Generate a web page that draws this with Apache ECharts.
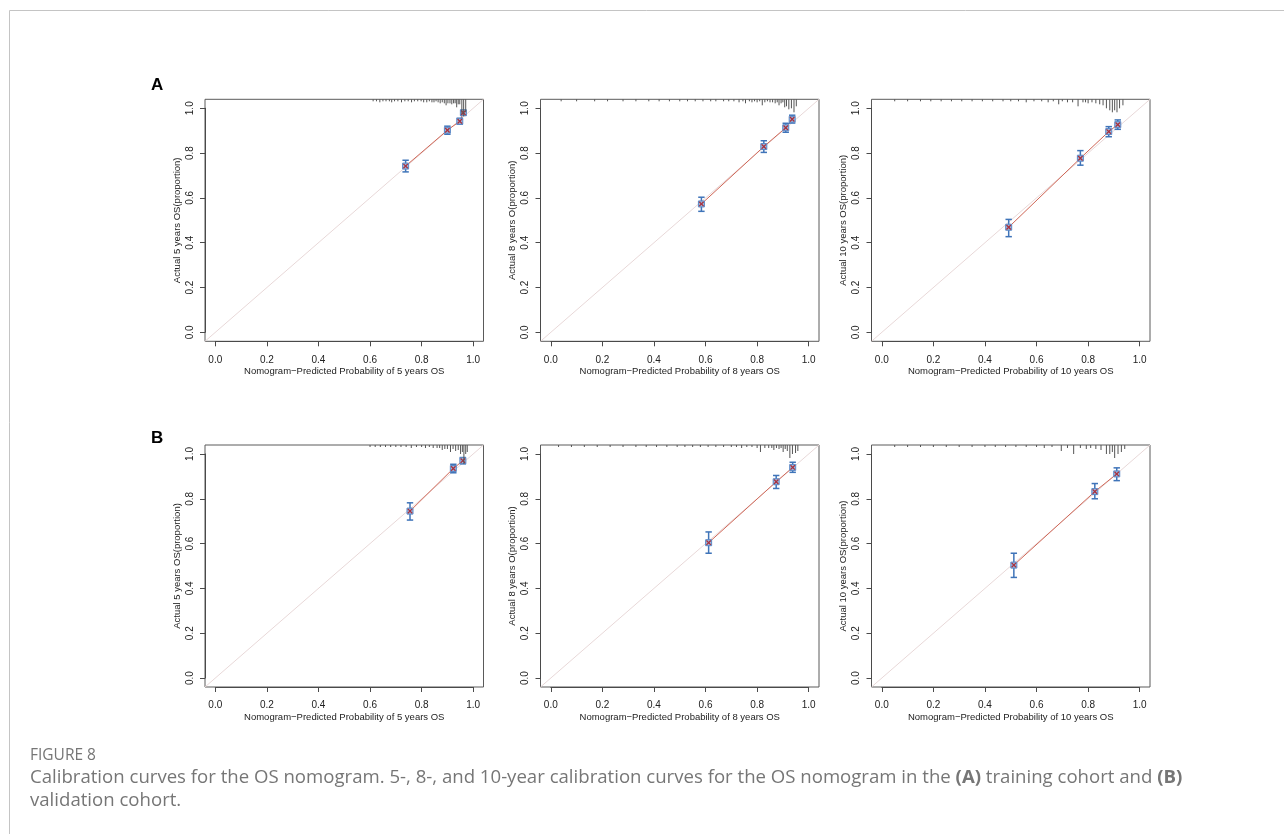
<!DOCTYPE html>
<html><head><meta charset="utf-8">
<script src="https://cdn.jsdelivr.net/npm/echarts@6/dist/echarts.min.js"></script>
<style>html,body{margin:0;padding:0;background:#fff}#c{width:1284px;height:834px}</style>
</head><body><div id="c"></div>
<script>
// ---------- DATA ----------
const tickValues = [0, 0.2, 0.4, 0.6, 0.8, 1.0];

// A: training cohort
const a5Pred = [0.738, 0.900, 0.948, 0.962];
const a5Obs  = [0.742, 0.902, 0.942, 0.980];
const a5Low  = [0.716, 0.884, 0.929, 0.970];
const a5High = [0.768, 0.920, 0.955, 0.990];
const a5RugX = [0.612,0.625,0.638,0.650,0.662,0.675,0.684,0.695,0.708,0.722,0.735,0.748,0.761,0.772,0.785,0.798,0.808,0.820,0.830,0.840,0.848,0.856,0.864,0.872,0.880,0.888,0.895,0.902,0.910,0.917,0.924,0.930,0.936,0.942,0.948,0.956,0.963,0.971];
const a5RugN = [1,1,2,1,1,1,2,1,1,2,1,1,2,1,1,1,2,2,1,2,2,1,2,3,2,3,5,3,3,4,3,3,7,4,4,14,16,12];

const a8Pred = [0.584, 0.826, 0.911, 0.936];
const a8Obs  = [0.573, 0.829, 0.913, 0.951];
const a8Low  = [0.540, 0.803, 0.893, 0.934];
const a8High = [0.603, 0.855, 0.933, 0.969];
const a8RugX = [0.04,0.10,0.17,0.22,0.28,0.33,0.38,0.42,0.46,0.50,0.53,0.56,0.59,0.62,0.64,0.67,0.69,0.71,0.73,0.745,0.755,0.77,0.78,0.79,0.80,0.81,0.82,0.83,0.84,0.85,0.86,0.87,0.878,0.885,0.893,0.900,0.907,0.914,0.923,0.933,0.943,0.952];
const a8RugN = [1,1,1,1,1,1,1,1,1,1,1,1,1,1,1,1,1,1,2,1,3,1,2,1,2,1,5,2,1,2,2,3,2,5,3,2,7,6,9,8,12,6];

const a10Pred = [0.492, 0.770, 0.880, 0.915];
const a10Obs  = [0.469, 0.777, 0.896, 0.927];
const a10Low  = [0.427, 0.746, 0.873, 0.906];
const a10High = [0.504, 0.811, 0.918, 0.948];
const a10RugX = [0.05,0.10,0.15,0.19,0.23,0.27,0.31,0.35,0.39,0.43,0.47,0.50,0.53,0.56,0.59,0.62,0.645,0.665,0.686,0.70,0.72,0.74,0.761,0.78,0.79,0.80,0.815,0.83,0.845,0.858,0.871,0.884,0.894,0.903,0.912,0.922,0.935];
const a10RugN = [1,1,1,1,1,1,1,1,1,1,1,1,1,2,1,1,2,1,4,1,2,2,6,2,2,3,2,3,4,5,8,10,12,10,12,8,5];

// B: validation cohort
const b5Pred = [0.755, 0.923, 0.960];
const b5Obs  = [0.745, 0.935, 0.970];
const b5Low  = [0.705, 0.916, 0.956];
const b5High = [0.782, 0.954, 0.984];
const b5RugX = [0.60,0.62,0.64,0.66,0.68,0.70,0.72,0.74,0.76,0.78,0.80,0.815,0.83,0.845,0.86,0.870,0.880,0.890,0.900,0.912,0.922,0.932,0.942,0.951,0.958,0.964,0.971,0.977];
const b5RugN = [1,1,1,1,1,1,1,1,2,1,1,2,1,2,2,2,4,3,3,6,3,5,4,8,6,18,8,6];

const b8Pred = [0.612, 0.874, 0.938];
const b8Obs  = [0.604, 0.876, 0.940];
const b8Low  = [0.557, 0.846, 0.918];
const b8High = [0.652, 0.904, 0.963];
const b8RugX = [0.03,0.08,0.13,0.18,0.23,0.28,0.33,0.37,0.41,0.45,0.49,0.52,0.55,0.58,0.61,0.64,0.67,0.70,0.72,0.74,0.76,0.78,0.80,0.813,0.83,0.845,0.857,0.865,0.875,0.885,0.893,0.901,0.909,0.917,0.927,0.937,0.949,0.958];
const b8RugN = [1,1,1,1,1,1,1,1,1,1,1,1,1,1,1,1,1,1,1,2,1,1,2,6,2,2,2,4,2,3,2,6,3,5,12,8,7,5];

const b10Pred = [0.512, 0.826, 0.911];
const b10Obs  = [0.504, 0.832, 0.911];
const b10Low  = [0.449, 0.800, 0.881];
const b10High = [0.557, 0.868, 0.938];
const b10RugX = [0.05,0.10,0.15,0.20,0.25,0.30,0.35,0.40,0.44,0.48,0.52,0.56,0.60,0.63,0.66,0.696,0.72,0.744,0.77,0.793,0.81,0.83,0.85,0.871,0.884,0.894,0.903,0.916,0.929,0.942];
const b10RugN = [1,1,1,1,1,1,1,1,1,1,1,1,1,2,1,5,2,8,2,3,2,3,4,8,8,6,12,8,6,3];

const yTitles = ['Actual 5 years OS(proportion)', 'Actual 8 years O(proportion)', 'Actual 10 years OS(proportion)'];
const xTitles = ['Nomogram\u2212Predicted Probability of 5 years OS', 'Nomogram\u2212Predicted Probability of 8 years OS', 'Nomogram\u2212Predicted Probability of 10 years OS'];
const panelLetters = ['A', 'B'];
const figureLabel = 'FIGURE 8';

// ---------- LAYOUT ----------
const panels = [
  {row:0, col:0, pred:a5Pred, obs:a5Obs, lo:a5Low, hi:a5High, rx:a5RugX, rn:a5RugN},
  {row:0, col:1, pred:a8Pred, obs:a8Obs, lo:a8Low, hi:a8High, rx:a8RugX, rn:a8RugN},
  {row:0, col:2, pred:a10Pred, obs:a10Obs, lo:a10Low, hi:a10High, rx:a10RugX, rn:a10RugN},
  {row:1, col:0, pred:b5Pred, obs:b5Obs, lo:b5Low, hi:b5High, rx:b5RugX, rn:b5RugN},
  {row:1, col:1, pred:b8Pred, obs:b8Obs, lo:b8Low, hi:b8High, rx:b8RugX, rn:b8RugN},
  {row:1, col:2, pred:b10Pred, obs:b10Obs, lo:b10Low, hi:b10High, rx:b10RugX, rn:b10RugN}
];
const colLeft = [205, 540.5, 871.5];
const rowTop = [99.3, 445];
const boxW = 278.5, boxH = 242;
const insetX = boxW * 0.04 / 1.08, insetY = boxH * 0.04 / 1.08;

const FONT = '"Liberation Sans", Arial, sans-serif';
const AX = '#4a4a4a';

const grids = [], xAxes = [], yAxes = [], series = [];

function errRender(params, api) {
  const x = api.value(0), lo = api.value(1), hi = api.value(2);
  const a = api.coord([x, lo]), b = api.coord([x, hi]);
  const w = 3.2;
  const st = {stroke:'#3f74b9', lineWidth:1.5};
  return {type:'group', children:[
    {type:'line', shape:{x1:a[0], y1:a[1], x2:b[0], y2:b[1]}, style:st},
    {type:'line', shape:{x1:a[0]-w, y1:a[1], x2:a[0]+w, y2:a[1]}, style:st},
    {type:'line', shape:{x1:b[0]-w, y1:b[1], x2:b[0]+w, y2:b[1]}, style:st}
  ]};
}
function ptRender(params, api) {
  const p = api.coord([api.value(0), api.value(1)]);
  const s = 3, c = 2.2;
  const xs = {stroke:'#a8303d', lineWidth:1.3};
  return {type:'group', children:[
    {type:'rect', shape:{x:p[0]-s, y:p[1]-s, width:2*s, height:2*s}, style:{fill:'#9fbbe0', stroke:'#5a88c6', lineWidth:1}},
    {type:'line', shape:{x1:p[0]-c, y1:p[1]-c, x2:p[0]+c, y2:p[1]+c}, style:xs},
    {type:'line', shape:{x1:p[0]-c, y1:p[1]+c, x2:p[0]+c, y2:p[1]-c}, style:xs}
  ]};
}
function rugRender(params, api) {
  const p = api.coord([api.value(0), 1.04]);
  const len = 1 + api.value(1) * 1.0;
  return {type:'line', shape:{x1:p[0], y1:p[1], x2:p[0], y2:p[1]+len}, style:{stroke:'#555', lineWidth:1}};
}

panels.forEach((pn, i) => {
  const L = colLeft[pn.col], T = rowTop[pn.row];
  const g0 = 2*i, g1 = 2*i+1;
  grids.push({left:L, top:T, width:boxW, height:boxH, show:true, borderColor:'#5a5a5a', borderWidth:1, backgroundColor:'transparent'});
  grids.push({left:L+insetX, top:T+insetY, width:boxW-2*insetX, height:boxH-2*insetY, show:false});
  xAxes.push({gridIndex:g0, type:'value', min:-0.04, max:1.04, show:false});
  yAxes.push({gridIndex:g0, type:'value', min:-0.04, max:1.04, show:false});
  xAxes.push({gridIndex:g1, type:'value', min:0, max:1, interval:0.2, position:'bottom', offset:insetY,
    splitLine:{show:false},
    axisLine:{show:true, onZero:false, lineStyle:{color:AX, width:1}},
    axisTick:{show:true, inside:false, length:5, lineStyle:{color:AX}},
    axisLabel:{show:true, margin:13.5, fontFamily:FONT, fontSize:10, color:'#222', formatter:v=>v.toFixed(1)},
    name:xTitles[pn.col], nameLocation:'middle', nameGap:25,
    nameTextStyle:{fontFamily:FONT, fontSize:9.5, color:'#222'}});
  yAxes.push({gridIndex:g1, type:'value', min:0, max:1, interval:0.2, position:'left', offset:insetX,
    splitLine:{show:false},
    axisLine:{show:true, onZero:false, lineStyle:{color:AX, width:1}},
    axisTick:{show:true, inside:false, length:5, lineStyle:{color:AX}},
    axisLabel:{show:true, margin:10, rotate:90, fontFamily:FONT, fontSize:10, color:'#222', formatter:v=>v.toFixed(1)},
    name:yTitles[pn.col], nameLocation:'middle', nameGap:23, nameRotate:90,
    nameTextStyle:{fontFamily:FONT, fontSize:9.5, color:'#222'}});

  series.push({type:'line', xAxisIndex:g0, yAxisIndex:g0, data:[[-0.04,-0.04],[1.04,1.04]], symbol:'none', silent:true,
    lineStyle:{color:'#e8d8d8', width:1}, z:1});
  series.push({type:'line', xAxisIndex:g0, yAxisIndex:g0, data:pn.pred.map((x,k)=>[x, pn.obs[k]]), symbol:'none', silent:true,
    lineStyle:{color:'#cf6656', width:1}, z:2});
  series.push({type:'custom', xAxisIndex:g0, yAxisIndex:g0, data:pn.pred.map((x,k)=>[x, pn.lo[k], pn.hi[k]]), renderItem:errRender, silent:true, z:3});
  series.push({type:'custom', xAxisIndex:g0, yAxisIndex:g0, data:pn.pred.map((x,k)=>[x, pn.obs[k]]), renderItem:ptRender, silent:true, z:4});
  series.push({type:'custom', xAxisIndex:g0, yAxisIndex:g0, data:pn.rx.map((x,k)=>[x, pn.rn[k]]), renderItem:rugRender, silent:true, z:5});
});

const CAP = '"Open Sans", "Noto Sans", sans-serif';
const CAPC = '#767676';
const graphic = [
  {type:'line', shape:{x1:9.5, y1:10.5, x2:1284, y2:10.5}, style:{stroke:'#c4c4c4', lineWidth:1}},
  {type:'line', shape:{x1:9.5, y1:10.5, x2:9.5, y2:834}, style:{stroke:'#c4c4c4', lineWidth:1}},
  {type:'text', left:151, top:77, style:{text:panelLetters[0], font:'bold 17px ' + FONT, fill:'#000'}},
  {type:'text', left:151, top:430, style:{text:panelLetters[1], font:'bold 17px ' + FONT, fill:'#000'}},
  {type:'text', left:30, top:748, style:{text:figureLabel, font:'15.5px ' + CAP, fill:CAPC}},
  {type:'text', left:30, top:768, style:{
    text:'{n|Calibration curves for the OS nomogram. 5-, 8-, and 10-year calibration curves for the OS nomogram in the }{b|(A)}{n| training cohort and }{b|(B)}',
    rich:{n:{font:'18.6px ' + CAP, fill:CAPC}, b:{font:'bold 18.6px ' + CAP, fill:CAPC}}}},
  {type:'text', left:30, top:791, style:{text:'validation cohort.', font:'18.6px ' + CAP, fill:CAPC}}
];

const chart = echarts.init(document.getElementById('c'), null, {renderer:'canvas'});
chart.setOption({animation:false, backgroundColor:'#fff', grid:grids, xAxis:xAxes, yAxis:yAxes, series:series, graphic:graphic});
</script>
</body></html>
